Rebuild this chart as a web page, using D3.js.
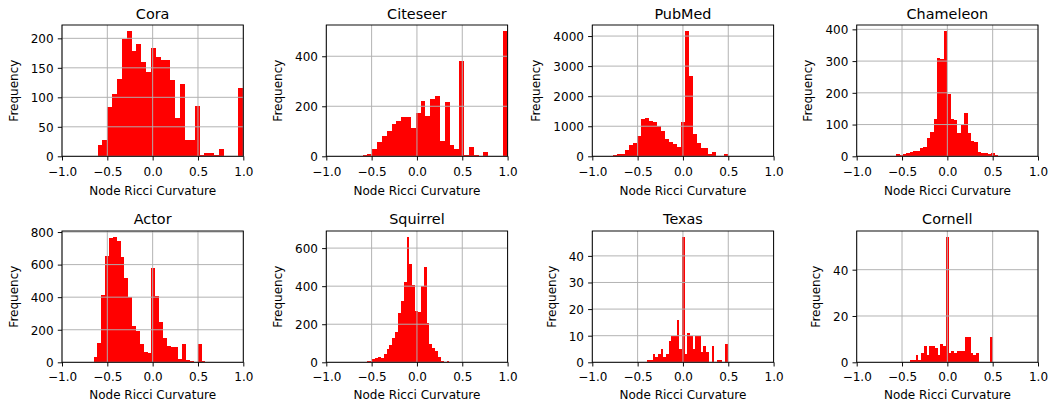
<!DOCTYPE html>
<html><head><meta charset="utf-8">
<script src="https://cdn.jsdelivr.net/npm/d3@7"></script>
<style>
body{margin:0;background:#fff}
svg{display:block}
text{font-family:"DejaVu Sans",sans-serif;fill:#000}
</style>
</head><body><svg id="c" width="1050" height="406"></svg>
<script>
// ---------- DATA ----------
const datasets = ["Cora","Citeseer","PubMed","Chameleon","Actor","Squirrel","Texas","Cornell"];
// data range covered by the 30 histogram bins of each dataset
const binRanges = [[-0.607,1.0],[-0.6,1.0],[-0.81,0.5],[-0.565,0.562],[-0.695,0.582],[-0.555,0.390],[-0.395,0.493],[-0.41,0.50]];
const coraCounts      = [19,27,83,106,131,199,212,178,191,160,143,184,169,163,163,129,65,122,27,27,85,3,6,5,2,12,1,0,1,115];
const citeseerCounts  = [4,11,28,56,81,100,131,141,156,156,113,173,221,163,231,241,62,217,45,30,383,7,38,5,0,17,2,1,1,500];
const pubmedCounts    = [10,34,70,90,200,375,430,660,1250,1290,1170,1140,1000,830,580,490,410,320,1150,4160,2680,740,455,285,260,70,150,20,0,80];
const chameleonCounts = [6,4,6,9,13,16,16,27,30,57,78,118,311,305,394,196,116,113,74,100,137,72,48,44,13,10,10,7,10,5];
const actorCounts     = [3,35,120,415,655,765,768,745,645,520,400,225,195,115,66,56,580,405,250,150,100,97,95,20,115,12,5,2,110,8];
const squirrelCounts  = [6,8,17,22,30,22,45,70,91,126,160,259,324,422,657,514,405,267,264,402,502,209,95,74,60,26,9,2,8,3];
const texasCounts     = [1,1,3,2,3,5,2,3,8,10,10,16,5,47,3,11,10,5,10,10,4,6,4,0,6,0,1,1,0,7];
const cornellCounts   = [1,1,3,1,4,7,3,7,7,6,3,8,7,54,4,5,4,5,5,5,11,11,4,3,4,0,0,0,0,11];
const allCounts = [coraCounts,citeseerCounts,pubmedCounts,chameleonCounts,actorCounts,squirrelCounts,texasCounts,cornellCounts];
const xTicks = [-1.0,-0.5,0.0,0.5,1.0];
const yTicksList = [[0,50,100,150,200],[0,200,400],[0,1000,2000,3000,4000],[0,100,200,300,400],
                    [0,200,400,600,800],[0,200,400,600],[0,10,20,30,40],[0,20,40]];
const xLabel = "Node Ricci Curvature", yLabel = "Frequency";

// ---------- LAYOUT ----------
const colLeft = [62, 326.3, 592.3, 856.7];
const rowTop = [25, 231];
const W = 181.3, H = 131.3;
const titleOff = [6, 7];
const tickLabOff = [19.7, 18.4];
const xLabOff = [38.3, 36.9];
const TL = 4.2, PAD = 4.2, LW = 0.96;

const svg = d3.select("#c");
const fmtX = d3.format(".1f");

datasets.forEach((name, i) => {
  const r = Math.floor(i / 4), c = i % 4;
  const L = colLeft[c], T = rowTop[r];
  const counts = allCounts[i];
  const [lo, hi] = binRanges[i];
  const edges = d3.range(counts.length + 1).map(k => lo + (hi - lo) * k / counts.length);
  const bins = counts.map((v, k) => ({x0: edges[k], x1: edges[k + 1], v}));

  const x = d3.scaleLinear().domain([-1, 1]).range([0, W]);
  const y = d3.scaleLinear().domain([0, d3.max(counts) * 1.05]).range([H, 0]);
  const g = svg.append("g").attr("transform", `translate(${L},${T})`);

  // bars
  g.append("g").attr("shape-rendering", "crispEdges")
    .selectAll("rect").data(bins.filter(d => d.v > 0)).join("rect")
    .attr("x", d => x(d.x0)).attr("width", d => x(d.x1) - x(d.x0))
    .attr("y", d => y(d.v)).attr("height", d => H - y(d.v))
    .attr("fill", "#ff0000");

  // grid
  const yTicks = yTicksList[i];
  g.append("g").selectAll("line").data(xTicks).join("line")
    .attr("x1", d => x(d)).attr("x2", d => x(d)).attr("y1", 0).attr("y2", H)
    .attr("stroke", "#b0b0b0").attr("stroke-width", LW);
  g.append("g").selectAll("line").data(yTicks).join("line")
    .attr("x1", 0).attr("x2", W).attr("y1", d => y(d)).attr("y2", d => y(d))
    .attr("stroke", "#b0b0b0").attr("stroke-width", LW);

  // frame
  g.append("rect").attr("x", 0).attr("y", 0).attr("width", W).attr("height", H)
    .attr("fill", "none").attr("stroke", "#000").attr("stroke-width", LW);

  // x axis
  const xa = d3.axisBottom(x).tickValues(xTicks).tickSize(TL).tickFormat(fmtX);
  const gx = g.append("g").attr("transform", `translate(0,${H})`).call(xa);
  gx.select(".domain").remove();
  gx.selectAll(".tick line").attr("stroke", "#000").attr("stroke-width", LW);
  gx.selectAll(".tick text").attr("y", tickLabOff[r]).attr("dy", null)
    .attr("font-size", 12).attr("font-family", "DejaVu Sans").attr("fill", "#000");

  // y axis
  const ya = d3.axisLeft(y).tickValues(yTicks).tickSize(TL).tickPadding(PAD).tickFormat(d3.format("d"));
  const gy = g.append("g").call(ya);
  gy.select(".domain").remove();
  gy.selectAll(".tick line").attr("stroke", "#000").attr("stroke-width", LW);
  gy.selectAll(".tick text").attr("dy", "0.36em")
    .attr("font-size", 12).attr("font-family", "DejaVu Sans").attr("fill", "#000");

  let maxW = 0;
  gy.selectAll(".tick text").each(function(){ maxW = Math.max(maxW, this.getComputedTextLength()); });

  // title
  g.append("text").attr("x", W / 2).attr("y", -titleOff[r]).attr("text-anchor", "middle")
    .attr("font-size", 14.4).text(name);
  // x label
  g.append("text").attr("x", W / 2).attr("y", H + xLabOff[r]).attr("text-anchor", "middle")
    .attr("font-size", 12).text(xLabel);
  // y label
  const cx = -(TL + PAD + maxW + 16);
  g.append("text").attr("transform", `translate(${cx + 3},${H / 2}) rotate(-90)`)
    .attr("text-anchor", "middle").attr("font-size", 12).text(yLabel);
});
</script>
</body></html>
